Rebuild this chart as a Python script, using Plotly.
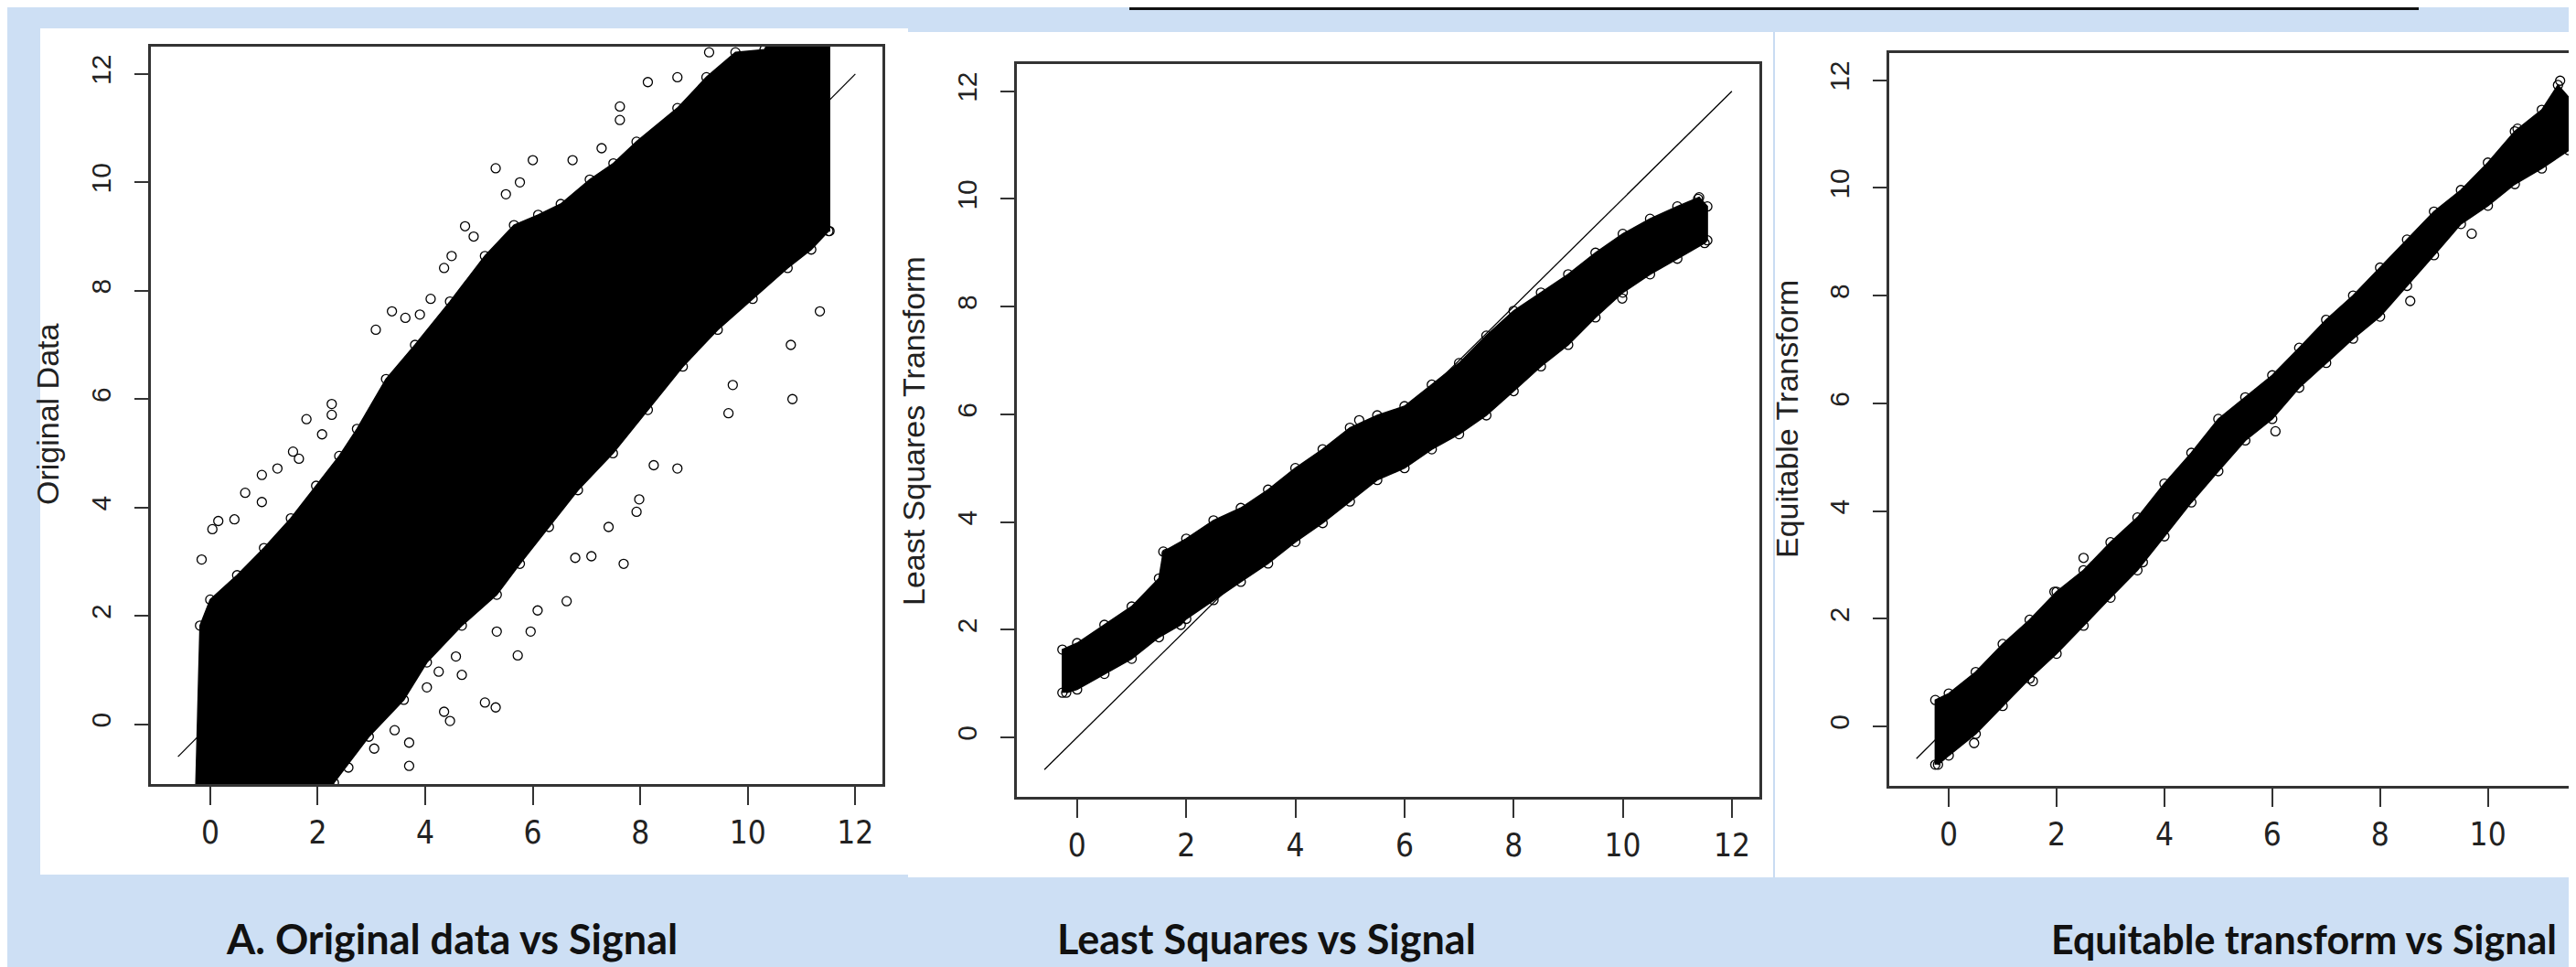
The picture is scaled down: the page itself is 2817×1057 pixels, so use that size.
import plotly.graph_objects as go

W, H = 2817, 1057

# ---------------- data ----------------
signal_ticks = [0, 2, 4, 6, 8, 10, 12]
value_ticks = [0, 2, 4, 6, 8, 10, 12]
identity_x = [-0.6, 12.0]
identity_y = [-0.6, 12.0]

# Panel A: dense cloud boundary (upper edge then lower edge)
a_upper_x = [-0.28, -0.19, 0.0, 0.5, 1.0, 1.5, 1.97, 2.4, 2.73, 3.27, 3.81, 4.46, 5.11, 5.65, 6.1, 6.52, 7.06, 7.5, 7.93, 8.69, 9.23, 9.77, 10.31, 10.6, 11.52]
a_upper_y = [-1.6, 1.82, 2.3, 2.75, 3.25, 3.8, 4.4, 4.95, 5.45, 6.37, 7.0, 7.8, 8.64, 9.21, 9.4, 9.6, 10.05, 10.35, 10.75, 11.37, 11.94, 12.4, 12.45, 13.0, 13.0]
a_lower_x = [11.52, 11.5, 11.18, 10.74, 10.09, 9.44, 8.79, 8.14, 7.49, 6.84, 6.3, 5.76, 5.33, 4.68, 4.03, 3.6, 2.95, 2.3, 2.2]
a_lower_y = [9.1, 9.1, 8.76, 8.42, 7.85, 7.28, 6.6, 5.8, 5.0, 4.32, 3.64, 2.96, 2.39, 1.82, 1.14, 0.45, -0.23, -1.08, -1.6]
a_out_x = [-0.16, 0.04, 0.15, 0.45, 0.65, 0.96, 0.96, 1.25, 1.54, 1.65, 1.79, 2.08, 2.26, 2.26, 3.08, 3.38, 3.63, 3.9, 4.1, 4.35, 4.49, 4.74, 4.9, 5.31, 5.5, 5.76, 6.0, 6.74, 7.28, 7.62, 7.62, 8.14, 8.69, 9.28,
           11.34, 10.8, 10.83, 9.64, 9.72, 8.69, 8.25, 7.98, 7.93, 7.69, 7.41, 7.09, 6.79, 6.63, 6.09, 5.96, 5.72, 5.33, 5.11, 5.31, 4.46, 4.35, 4.03, 3.7, 3.7, 3.43, 3.05, 2.57, 2.25, 4.68, 4.57, 4.25]
a_out_y = [3.04, 3.6, 3.75, 3.78, 4.27, 4.1, 4.6, 4.72, 5.03, 4.9, 5.63, 5.35, 5.71, 5.91, 7.28, 7.62, 7.5, 7.56, 7.85, 8.42, 8.64, 9.19, 9.0, 10.26, 9.78, 10.0, 10.41, 10.41, 10.63, 11.4, 11.15, 11.85, 11.94, 12.4,
           7.62, 7.0, 6.0, 5.74, 6.26, 4.72, 4.78, 4.15, 3.92, 2.96, 3.64, 3.1, 3.07, 2.27, 2.1, 1.71, 1.27, 1.71, 0.4, 0.31, 0.06, 0.23, 0.68, -0.77, -0.34, -0.11, -0.45, -0.8, -0.97, 0.91, 1.25, 0.97]

# Panel B: least squares band
b_upper_x = [-0.27, -0.27, 0.0, 0.5, 1.0, 1.5, 1.58, 2.0, 2.5, 3.0, 3.5, 4.0, 4.5, 5.0, 5.5, 6.0, 6.5, 7.0, 7.5, 8.0, 8.5, 9.0, 9.5, 10.0, 10.5, 11.0, 11.4, 11.55]
b_upper_y = [0.83, 1.63, 1.75, 2.09, 2.43, 2.95, 3.45, 3.69, 4.03, 4.26, 4.6, 5.0, 5.35, 5.75, 5.98, 6.15, 6.55, 6.95, 7.46, 7.92, 8.26, 8.6, 9.0, 9.35, 9.63, 9.86, 10.03, 9.86]
b_lower_x = [11.55, 11.5, 11.0, 10.5, 10.0, 9.5, 9.0, 8.5, 8.0, 7.5, 7.0, 6.5, 6.0, 5.5, 5.0, 4.5, 4.0, 3.5, 3.0, 2.5, 2.0, 1.9, 1.5, 1.0, 0.5, 0.0, -0.2]
b_lower_y = [9.23, 9.18, 8.89, 8.6, 8.26, 7.8, 7.29, 6.89, 6.43, 5.98, 5.63, 5.35, 5.0, 4.78, 4.38, 3.98, 3.63, 3.23, 2.89, 2.55, 2.2, 2.09, 1.86, 1.46, 1.18, 0.89, 0.83]
b_out_x = [5.17, 1.64, 11.38, 7.74, 9.99]
b_out_y = [5.89, 3.41, 10.0, 6.49, 8.15]

# Panel C: equitable band
c_upper_x = [-0.25, -0.25, 0.0, 0.5, 1.0, 1.5, 2.0, 2.5, 3.0, 3.5, 4.0, 4.5, 5.0, 5.5, 6.0, 6.5, 7.0, 7.5, 8.0, 8.5, 9.0, 9.5, 10.0, 10.5, 11.0, 11.3, 11.55]
c_upper_y = [-0.71, 0.49, 0.61, 1.01, 1.53, 1.98, 2.5, 2.9, 3.42, 3.88, 4.51, 5.08, 5.71, 6.11, 6.52, 7.03, 7.55, 8.0, 8.52, 9.04, 9.56, 9.96, 10.47, 11.05, 11.45, 11.91, 11.62]
c_lower_x = [11.55, 11.5, 11.0, 10.5, 10.0, 9.5, 9.0, 8.5, 8.0, 7.5, 7.0, 6.5, 6.0, 5.5, 5.0, 4.5, 4.0, 3.5, 3.0, 2.5, 2.0, 1.5, 1.0, 0.5, 0.0, -0.2]
c_lower_y = [10.88, 10.7, 10.36, 10.07, 9.67, 9.33, 8.75, 8.18, 7.61, 7.2, 6.75, 6.29, 5.71, 5.31, 4.74, 4.16, 3.53, 2.9, 2.39, 1.87, 1.35, 0.89, 0.38, -0.14, -0.54, -0.71]
c_out_x = [2.5, 1.96, 3.6, 6.06, 11.34, 10.55, 9.7, 8.56, 0.47, 1.56]
c_out_y = [3.13, 2.5, 3.05, 5.48, 11.99, 11.1, 9.15, 7.9, -0.31, 0.84]

panel_titles = ["A. Original data vs Signal", "Least Squares vs Signal", "Equitable transform vs Signal"]
y_titles = ["Original Data", "Least Squares Transform", "Equitable Transform"]

# ---------------- figure ----------------
fig = go.Figure()

def add_panel(ux, uy, lx, ly, ox, oy, xa, ya):
    px_ = ux + lx
    py_ = uy + ly
    fig.add_trace(go.Scatter(x=px_, y=py_, mode="lines+markers", fill="toself",
                             fillcolor="black", line=dict(color="black", width=1.5),
                             marker=dict(symbol="circle-open", size=10, color="black", line=dict(width=1.3)),
                             xaxis=xa, yaxis=ya, hoverinfo="skip", showlegend=False))
    fig.add_trace(go.Scatter(x=ox, y=oy, mode="markers",
                             marker=dict(symbol="circle-open", size=10, color="black", line=dict(width=1.3)),
                             xaxis=xa, yaxis=ya, hoverinfo="skip", showlegend=False, cliponaxis=True))
    fig.add_trace(go.Scatter(x=identity_x, y=identity_y, mode="lines",
                             line=dict(color="black", width=1.3),
                             xaxis=xa, yaxis=ya, hoverinfo="skip", showlegend=False))

add_panel(a_upper_x, a_upper_y, a_lower_x, a_lower_y, a_out_x, a_out_y, "x", "y")
add_panel(b_upper_x, b_upper_y, b_lower_x, b_lower_y, b_out_x, b_out_y, "x2", "y2")
add_panel(c_upper_x, c_upper_y, c_lower_x, c_lower_y, c_out_x, c_out_y, "x3", "y3")

NARROW = "Liberation Sans Narrow, Arial Narrow, DejaVu Sans Condensed, sans-serif"
SANS = "Liberation Sans, Arial, sans-serif"
AX = "#333333"

def xaxis(dom, rng, anchor):
    return dict(domain=dom, range=rng, anchor=anchor, showline=True, linecolor=AX, linewidth=2.5,
                mirror=True, ticks="outside", ticklen=20, tickwidth=2, tickcolor=AX,
                tickvals=signal_ticks, showgrid=False, zeroline=False,
                tickfont=dict(family=NARROW, size=35, color="#222222"), ticklabelstandoff=0)

def yaxis(dom, rng, anchor, mirror=True):
    return dict(domain=dom, range=rng, anchor=anchor, showline=True, linecolor=AX, linewidth=2.5,
                mirror=mirror, ticks="outside", ticklen=15, tickwidth=2, tickcolor=AX,
                tickvals=value_ticks, showgrid=False, zeroline=False, tickangle=-90,
                tickfont=dict(family=SANS, size=30, color="#222222"), ticklabelstandoff=14)

R = [-1.104, 12.504]
fig.update_layout(
    width=W, height=H, margin=dict(l=0, r=0, t=0, b=0),
    paper_bgcolor="#cddff4", plot_bgcolor="white",
    xaxis=xaxis([157 / W, 957 / W], R, "y"),
    yaxis=yaxis([1 - 849 / H, 1 - 43 / H], R, "x"),
    xaxis2=xaxis([1104 / W, 1916 / W], R, "y2"),
    yaxis2=yaxis([1 - 863 / H, 1 - 62 / H], R, "x2"),
    xaxis3=xaxis([2058 / W, 1.0], [-1.104, 11.77], "y3"),
    yaxis3=yaxis([1 - 851 / H, 1 - 50 / H], R, "x3", mirror=False),
    showlegend=False,
)

def prect(x0, y0, x1, y1, color):
    return dict(type="rect", xref="paper", yref="paper", x0=x0 / W, x1=x1 / W,
                y0=1 - y1 / H, y1=1 - y0 / H, fillcolor=color, line=dict(width=0), layer="below")

shapes = [
    prect(36, 23, 985, 948, "white"),
    prect(985, 27, 1932, 951, "white"),
    prect(1932, 27, W, 951, "white"),
    dict(type="line", xref="paper", yref="paper", x0=1932 / W, x1=1932 / W, y0=1 - 951 / H, y1=1 - 27 / H,
         line=dict(color="#c9dcf2", width=2), layer="below"),
    dict(type="line", xref="paper", yref="paper", x0=1227 / W, x1=2637 / W, y0=1 - 1.5 / H, y1=1 - 1.5 / H,
         line=dict(color="#111111", width=3)),
]
fig.update_layout(shapes=shapes)

annotations = []
for txt, cx, fs in zip(panel_titles, [486, 1377, 2511], [45, 45, 43]):
    annotations.append(dict(text="<b>" + txt + "</b>", xref="paper", yref="paper", x=cx / W, y=1 - 1018 / H,
                            xanchor="center", yanchor="middle", showarrow=False,
                            font=dict(family="Lato, Open Sans, sans-serif", size=fs, color="#111111")))
for txt, cx, cy in zip(y_titles, [44, 991, 1946], [445, 463, 450]):
    annotations.append(dict(text=txt, xref="paper", yref="paper", x=cx / W, y=1 - cy / H,
                            xanchor="center", yanchor="middle", showarrow=False, textangle=-90,
                            font=dict(family=SANS, size=34, color="#222222")))
fig.update_layout(annotations=annotations)

fig.write_html("out.html")
